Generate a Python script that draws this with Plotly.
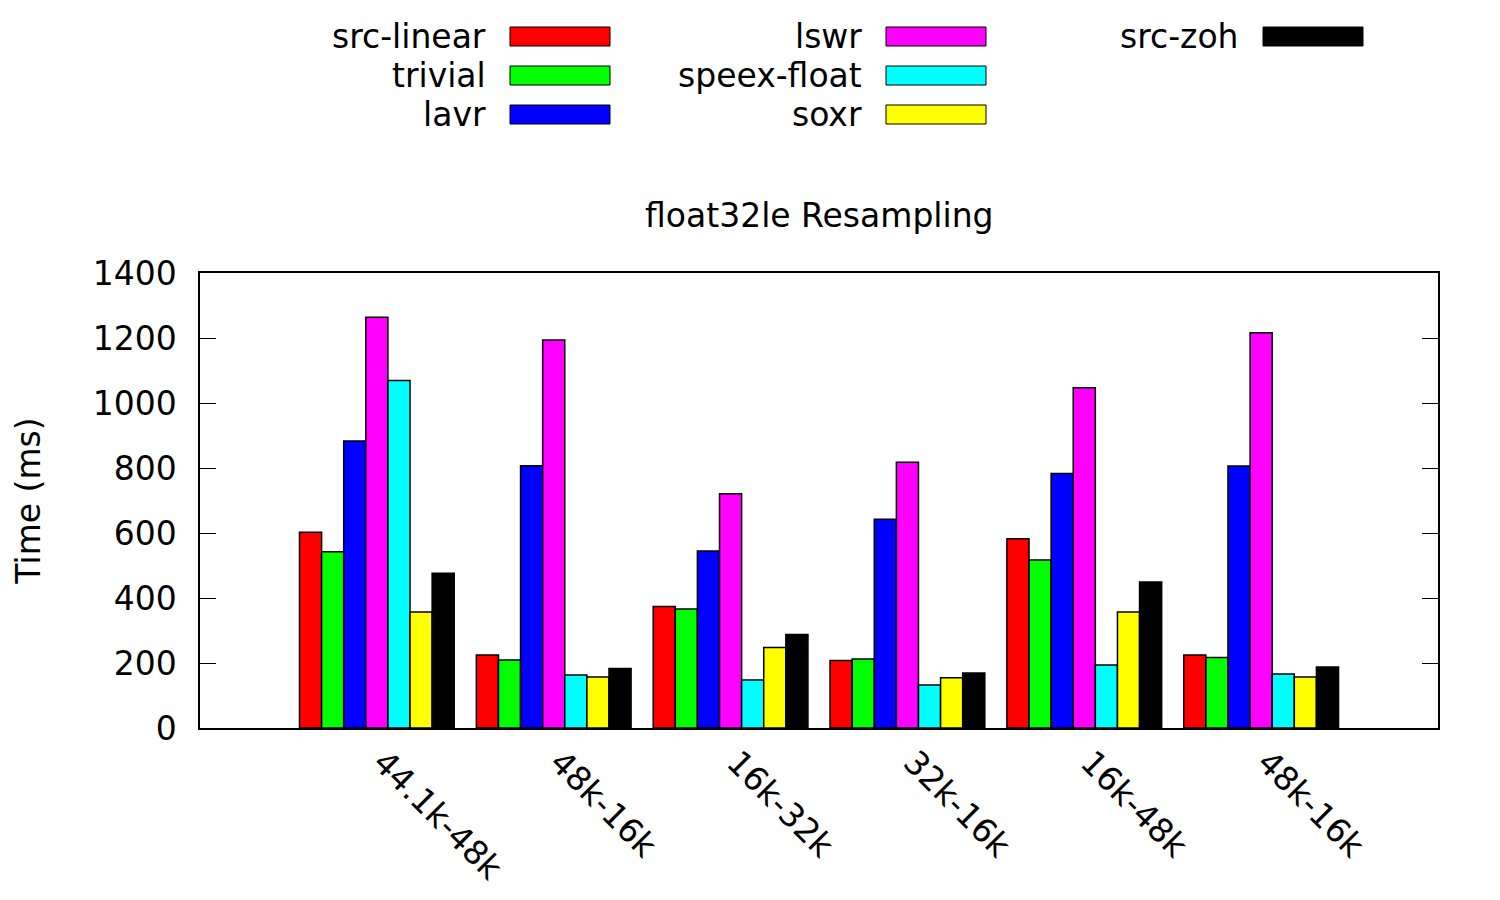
import plotly.graph_objects as go

categories = ["44.1k-48k", "48k-16k", "16k-32k", "32k-16k", "16k-48k", "48k-16k"]
series_names = ["src-linear", "trivial", "lavr", "lswr", "speex-float", "soxr", "src-zoh"]
src_linear = [602, 225, 374, 208, 582, 225]
trivial = [542, 209, 366, 212, 517, 217]
lavr = [883, 807, 545, 642, 783, 806]
lswr = [1264, 1194, 721, 818, 1047, 1216]
speex_float = [1069, 163, 148, 132, 194, 166]
soxr = [357, 157, 248, 155, 357, 157]
src_zoh = [476, 183, 288, 169, 449, 188]
series_values = [src_linear, trivial, lavr, lswr, speex_float, soxr, src_zoh]
colors = ["#FF0000", "#00FF00", "#0000FF", "#FF00FF", "#00FFFF", "#FFFF00", "#000000"]
y_ticks = [0, 200, 400, 600, 800, 1000, 1200, 1400]

FONT = "DejaVu Sans"
FS = 33
W, H = 1500, 900
OFF = 8  # page offset of the figure in the screenshot
ML, MR, MT, MB = 200 - OFF, 62 + OFF, 273 - OFF, 172 + OFF
PW, PH = W - ML - MR, H - MT - MB

x_pos = list(range(len(categories)))

fig = go.Figure()
for name, vals, col in zip(series_names, series_values, colors):
    fig.add_trace(go.Bar(
        x=x_pos, y=vals, name=name,
        marker=dict(color=col, line=dict(color="black", width=1.5)),
        showlegend=False,
    ))

# custom gnuplot-style legend: text right-aligned, swatch to the right
def px_to_paper(px, py):
    return (px - OFF - ML) / PW, (H - MB - (py - OFF)) / PH

col_swatch_left = [510, 886, 1263]
row_centers = [36.5, 75.5, 114.5]
sw_w, sw_h = 100, 19
shapes = []
annotations = []
for i, (name, col) in enumerate(zip(series_names, colors)):
    c, r = i // 3, i % 3
    x0, yc = col_swatch_left[c], row_centers[r]
    ax0, ay0 = px_to_paper(x0, yc + sw_h / 2)
    ax1, ay1 = px_to_paper(x0 + sw_w, yc - sw_h / 2)
    shapes.append(dict(type="rect", xref="paper", yref="paper",
                       x0=ax0, y0=ay0, x1=ax1, y1=ay1,
                       fillcolor=col, line=dict(color="black", width=1)))
    tx, ty = px_to_paper(x0 - 22, yc)
    annotations.append(dict(text=name, xref="paper", yref="paper", x=tx, y=ty,
                            xanchor="right", yanchor="middle", showarrow=False,
                            font=dict(family=FONT, size=FS, color="black")))

tx, ty = px_to_paper(819, 215)
annotations.append(dict(text="float32le Resampling", xref="paper", yref="paper",
                        x=tx, y=ty, xanchor="center", yanchor="middle", showarrow=False,
                        font=dict(family=FONT, size=FS, color="black")))

fig.update_layout(
    width=W, height=H,
    margin=dict(l=ML, r=MR, t=MT, b=MB, autoexpand=False),
    paper_bgcolor="white", plot_bgcolor="white",
    barmode="group", bargap=0.125, bargroupgap=0,
    font=dict(family=FONT, size=FS, color="black"),
    shapes=shapes, annotations=annotations,
    xaxis=dict(range=[-1, 6], tickmode="array", tickvals=x_pos, ticktext=categories,
               tickangle=45, ticks="", showgrid=False, zeroline=False,
               ticklabelshift=6,
               showline=True, linecolor="black", linewidth=1.5, mirror=True,
               tickfont=dict(family=FONT, size=FS, color="black")),
    yaxis=dict(range=[0, 1400], tickmode="array", tickvals=y_ticks,
               ticks="inside", ticklen=16, tickwidth=1, tickcolor="black",
               showgrid=False, zeroline=False,
               showline=True, linecolor="black", linewidth=1.5, mirror="ticks",
               ticklabelstandoff=15,
               tickfont=dict(family=FONT, size=FS, color="black"),
               title=dict(text="Time (ms)", standoff=42,
                          font=dict(family=FONT, size=FS, color="black"))),
)

fig.write_html("out.html")
